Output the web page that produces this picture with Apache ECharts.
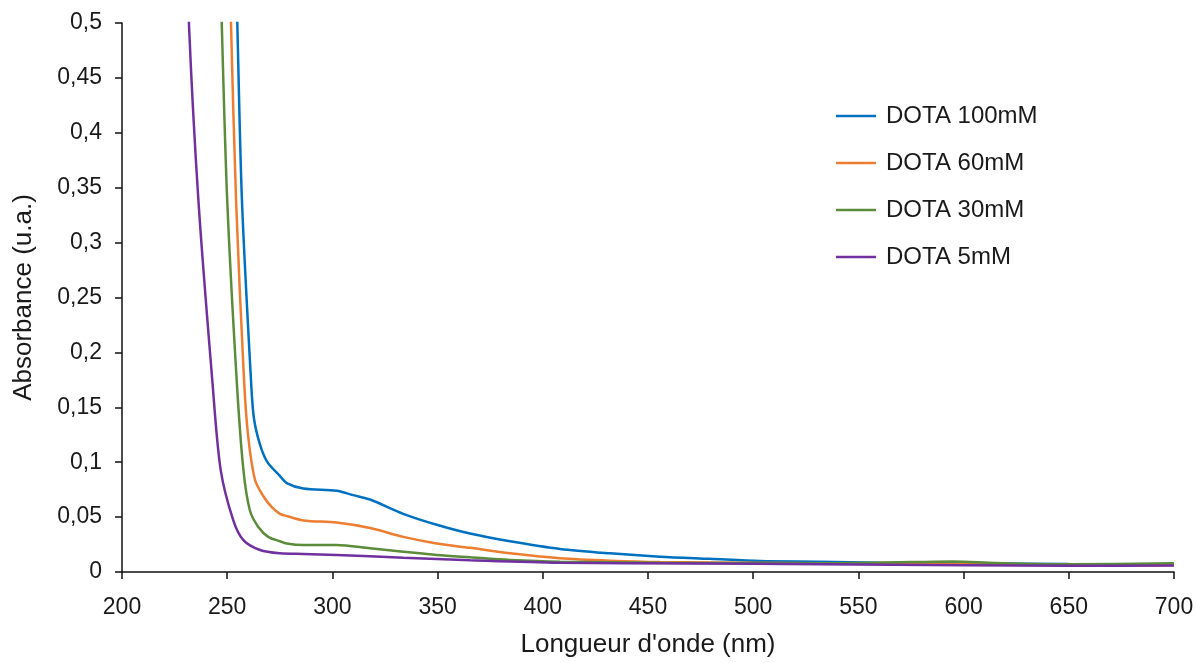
<!DOCTYPE html>
<html>
<head>
<meta charset="utf-8">
<script src="https://cdn.jsdelivr.net/npm/echarts@6/dist/echarts.min.js"></script>
<style>html,body{margin:0;padding:0;background:#fff}#c{width:1196px;height:663px}</style>
</head>
<body>
<div id="c"></div>
<script>
var seriesNames = ['DOTA 100mM', 'DOTA 60mM', 'DOTA 30mM', 'DOTA 5mM'];
var xTicks = [200, 250, 300, 350, 400, 450, 500, 550, 600, 650, 700];
var yTicks = [0, 0.05, 0.1, 0.15, 0.2, 0.25, 0.3, 0.35, 0.4, 0.45, 0.5];

var wl100  = [253.5, 254.8, 257.0, 261.3, 262.7, 265.6, 269.1, 274.8, 278.3, 286.2, 302.0, 309.9, 317.9, 333.7, 349.6, 365.4, 384.4, 408.2, 431.9, 455.7, 479.5, 503.2, 531.7, 560, 600, 650, 700];
var abs100 = [0.60, 0.500, 0.339, 0.175, 0.140, 0.116, 0.100, 0.088, 0.081, 0.076, 0.074, 0.070, 0.066, 0.053, 0.043, 0.035, 0.028, 0.021, 0.017, 0.014, 0.012, 0.010, 0.0094, 0.0085, 0.0078, 0.0072, 0.0070];

var wl60  = [250.5, 251.8, 254.2, 258.0, 260.0, 263.2, 267.2, 271.2, 275.1, 278.3, 286.2, 302.0, 317.9, 333.7, 349.6, 365.4, 384.4, 408.2, 431.9, 455.7, 531.7, 600, 650, 700];
var abs60 = [0.60, 0.500, 0.339, 0.175, 0.123, 0.084, 0.069, 0.059, 0.053, 0.051, 0.047, 0.045, 0.040, 0.032, 0.026, 0.022, 0.017, 0.0125, 0.0103, 0.0091, 0.0079, 0.0070, 0.0062, 0.0062];

var wl30  = [246.0, 247.4, 250.0, 254.5, 257.7, 260.8, 264.8, 269.5, 275.1, 278.3, 286.2, 302.0, 317.9, 333.7, 349.6, 365.4, 384.4, 408.2, 455.7, 531.7, 575, 595, 615, 650, 700];
var abs30 = [0.60, 0.500, 0.339, 0.175, 0.093, 0.056, 0.041, 0.032, 0.028, 0.026, 0.0246, 0.0246, 0.0216, 0.0185, 0.0155, 0.0134, 0.011, 0.0094, 0.0085, 0.0080, 0.0090, 0.0095, 0.0082, 0.0070, 0.0080];

var wl5  = [230.5, 231.8, 236.3, 242.9, 246.9, 252.9, 257.7, 265.6, 275.1, 286.2, 302.0, 333.7, 365.4, 408.2, 470, 531.7, 600, 650, 700];
var abs5 = [0.60, 0.500, 0.339, 0.175, 0.093, 0.047, 0.029, 0.020, 0.017, 0.0164, 0.0155, 0.0130, 0.0108, 0.0085, 0.0078, 0.0070, 0.0062, 0.0056, 0.0060];

var colors = ['#0070C0', '#ED7D31', '#5B8C3A', '#7030A0'];

function pairs(xs, ys) { return xs.map(function (x, i) { return [x, ys[i]]; }); }
var dataSets = [pairs(wl100, abs100), pairs(wl60, abs60), pairs(wl30, abs30), pairs(wl5, abs5)];

var font = '"Liberation Sans", "DejaVu Sans", sans-serif';
var txt = '#1a1a1a';
var chart = echarts.init(document.getElementById('c'));
chart.setOption({
  animation: false,
  backgroundColor: '#fff',
  color: colors,
  grid: { left: 122, right: 22, top: 23, bottom: 91, containLabel: false, outerBoundsMode: 'none' },
  legend: {
    orient: 'vertical',
    left: 836, top: 104, padding: 0,
    icon: 'rect',
    itemWidth: 40, itemHeight: 2.5, itemGap: 23,
    data: seriesNames,
    textStyle: { fontFamily: font, fontSize: 24, lineHeight: 24, color: txt, padding: [0, 0, 0, 5] }
  },
  xAxis: {
    type: 'value', min: xTicks[0], max: xTicks[xTicks.length - 1], interval: 50,
    name: "Longueur d'onde (nm)", nameLocation: 'middle', nameGap: 60,
    nameTextStyle: { fontFamily: font, fontSize: 26, color: txt, verticalAlign: 'top' },
    axisLine: { show: true, onZero: false, lineStyle: { color: '#111', width: 1.5 } },
    axisTick: { show: true, length: 7, lineStyle: { color: '#111', width: 1.5 } },
    axisLabel: { fontFamily: font, fontSize: 23, color: txt, margin: 24 },
    splitLine: { show: false }
  },
  yAxis: {
    type: 'value', min: yTicks[0], max: yTicks[yTicks.length - 1], interval: 0.05,
    name: 'Absorbance (u.a.)', nameLocation: 'middle', nameGap: 85, nameRotate: 90,
    nameTextStyle: { fontFamily: font, fontSize: 26, color: txt },
    axisLine: { show: true, lineStyle: { color: '#111', width: 1.5 } },
    axisTick: { show: true, length: 7, lineStyle: { color: '#111', width: 1.5 } },
    axisLabel: {
      fontFamily: font, fontSize: 23, color: txt, margin: 20,
      formatter: function (v) { return String(+v.toFixed(2)).replace('.', ','); }
    },
    splitLine: { show: false }
  },
  series: seriesNames.map(function (n, i) {
    return {
      name: n, type: 'line', data: dataSets[i], symbol: 'none',
      smooth: 0.3,
      clip: true,
      lineStyle: { width: 2.5, color: colors[i] }
    };
  })
});
</script>
</body>
</html>
